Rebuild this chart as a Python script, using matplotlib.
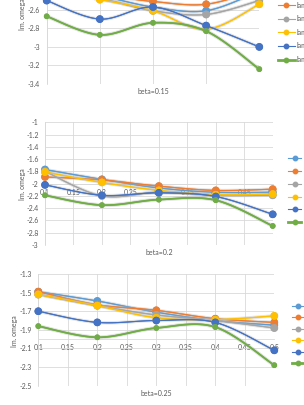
import numpy as np
import matplotlib
matplotlib.use('Agg')
import matplotlib.pyplot as plt
import matplotlib.patheffects as pe
from matplotlib.lines import Line2D
from matplotlib.ticker import FormatStrFormatter

plt.rcParams['font.family'] = ['Lato', 'DejaVu Sans']

x_vals = [0.1, 0.2, 0.3, 0.4, 0.5]
series_names = ['lambda=0.1', 'lambda=0.2', 'lambda=0.3', 'lambda=0.4', 'lambda=0.5', 'lambda=0.6']
series_colors = ['#5B9BD5', '#ED7D31', '#A5A5A5', '#FFC000', '#4472C4', '#70AD47']

# beta = 0.15
beta015 = [
    [-2.38, -2.45, -2.57, -2.61, -2.40],
    [-2.40, -2.44, -2.51, -2.54, -2.38],
    [-2.44, -2.48, -2.61, -2.65, -2.50],
    [-2.42, -2.49, -2.61, -2.81, -2.54],
    [-2.50, -2.70, -2.57, -2.77, -3.00],
    [-2.67, -2.87, -2.74, -2.83, -3.24],
]
# beta = 0.2
beta02 = [
    [-1.77, -1.93, -2.07, -2.14, -2.14],
    [-1.89, -1.94, -2.04, -2.11, -2.09],
    [-1.80, -2.20, -2.14, -2.19, -2.19],
    [-1.81, -1.98, -2.11, -2.18, -2.17],
    [-2.02, -2.19, -2.15, -2.21, -2.50],
    [-2.19, -2.35, -2.26, -2.27, -2.69],
]
# beta = 0.25
beta025 = [
    [-1.49, -1.59, -1.71, -1.80, -1.85],
    [-1.49, -1.63, -1.69, -1.78, -1.82],
    [-1.52, -1.64, -1.74, -1.80, -1.88],
    [-1.52, -1.64, -1.77, -1.79, -1.75],
    [-1.70, -1.82, -1.80, -1.82, -2.12],
    [-1.86, -1.98, -1.88, -1.87, -2.28],
]

panel_titles = ['beta=0.15', 'beta=0.2', 'beta=0.25']
panel_data = [beta015, beta02, beta025]
panel_ylims = [(-3.4, -2.0), (-3.0, -1.0), (-2.5, -1.3)]
panel_xstep = [0.1, 0.05, 0.05]

# layout in pixels (figure is 304 x 405): left, right, top, bottom of plot area
W, H = 304, 405
boxes = [(46.7, 259.3, -45.8, 84.0), (45.0, 272.7, 122.3, 245.0), (38.3, 274.3, 274.0, 385.7)]
title_y = [91, 252.5, 393]
ylabel_pos = [(22, 14.5), (23, 184), (14.5, 331)]
legend_cfg = [  # x of handle start, y center, handlelength, labelspacing
    (278, 25.5, 2.4, 0.95),
    (288.3, 190, 1.9, 0.85),
    (291.7, 334.6, 1.7, 0.65),
]

text_color = '#595959'
grid_color = '#D9D9D9'
fs = 5


def smooth(x, y, n=24):
    # Bezier smoothing through the points, similar to a spreadsheet smoothed line
    p = np.column_stack([x, y]).astype(float)
    out = []
    for i in range(len(p) - 1):
        p0 = p[i - 1] if i > 0 else p[i]
        p1, p2 = p[i], p[i + 1]
        p3 = p[i + 2] if i + 2 < len(p) else p[i + 1]
        c1 = p1 + (p2 - p0) / 6
        c2 = p2 - (p3 - p1) / 6
        t = np.linspace(0, 1, n)[:, None]
        seg = (1 - t) ** 3 * p1 + 3 * (1 - t) ** 2 * t * c1 + 3 * (1 - t) * t ** 2 * c2 + t ** 3 * p2
        out.append(seg if i == 0 else seg[1:])
    out = np.vstack(out)
    return out[:, 0], out[:, 1]


fig = plt.figure(figsize=(W / 100, H / 100), dpi=100)

for k in range(3):
    l, r, t, b = boxes[k]
    ax = fig.add_axes([l / W, (H - b) / H, (r - l) / W, (b - t) / H])
    lo, hi = panel_ylims[k]
    ax.set_xlim(0.1, 0.5)
    ax.set_ylim(lo, hi)
    ax.set_xticks(np.arange(0.1, 0.5 + 1e-9, panel_xstep[k]))
    ax.set_yticks(np.arange(lo, hi + 1e-9, 0.2))
    ax.xaxis.set_major_formatter(FormatStrFormatter('%g'))
    ax.yaxis.set_major_formatter(FormatStrFormatter('%g'))
    ax.grid(True, color=grid_color, linewidth=0.6)
    ax.set_axisbelow(True)
    for s in ['top', 'right']:
        ax.spines[s].set_visible(False)
    ax.spines['left'].set_color(grid_color)
    ax.spines['left'].set_linewidth(0.6)
    ax.spines['bottom'].set_position(('data', -2.0))
    ax.spines['bottom'].set_color(grid_color)
    ax.spines['bottom'].set_linewidth(0.6)
    ax.tick_params(length=0, labelsize=fs, labelcolor=text_color)
    ax.tick_params(axis='y', pad=4.6)
    ax.tick_params(axis='x', pad=3.5)
    if k == 0:
        # the horizontal axis of the top chart sits above the visible area
        ax.tick_params(axis='x', labelbottom=False)
        ax.set_yticks(np.arange(lo, -2.5, 0.2))

    handles = []
    for j, ys in enumerate(panel_data[k]):
        c = series_colors[j]
        is_last = j == len(panel_data[k]) - 1
        lw = 1.2 if is_last else 0.8
        ms = 3.0 if is_last else 4.4
        glow = [pe.withStroke(linewidth=lw + 1.6, foreground='#b0b0b0', alpha=0.35)]
        sx, sy = smooth(x_vals, ys)
        ln, = ax.plot(sx, sy, color=c, linewidth=lw, zorder=3 + j, clip_on=False)
        ln.set_path_effects(glow + [pe.Normal()])
        mk, = ax.plot(x_vals, ys, linestyle='none', marker='o', markersize=ms,
                      color=c, zorder=3 + j, clip_on=False)
        mk.set_path_effects([pe.withStroke(linewidth=1.4, foreground='#b0b0b0', alpha=0.35), pe.Normal()])
        handles.append(Line2D([], [], color=c, linewidth=2.0 if is_last else 0.8,
                              marker='o', markersize=3.2))

    lx, ly, hl, lsp = legend_cfg[k]
    ax.legend(handles, series_names, loc='center left',
              bbox_to_anchor=(lx / W, (H - ly) / H), bbox_transform=fig.transFigure,
              frameon=False, fontsize=fs, labelcolor=text_color, handlelength=hl,
              handletextpad=0.3, labelspacing=lsp, borderpad=0, borderaxespad=0)

    fig.text((l + r) / 2 / W, (H - title_y[k]) / H, panel_titles[k], fontsize=fs,
             color=text_color, ha='center', va='center')
    yx, yy = ylabel_pos[k]
    fig.text(yx / W, (H - yy) / H, 'Im. omega', fontsize=fs, color=text_color,
             rotation=90, ha='center', va='center')

fig.savefig('out.png', dpi=100)
